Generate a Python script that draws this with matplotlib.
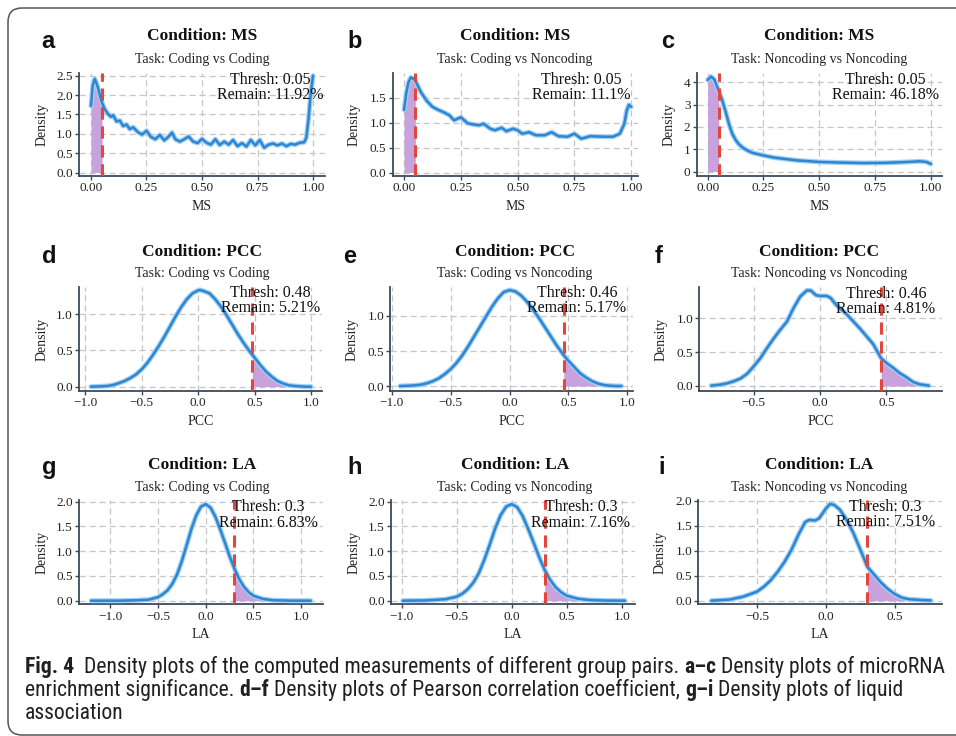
import matplotlib
matplotlib.use("Agg")
import matplotlib.pyplot as plt
from matplotlib.patches import FancyBboxPatch
from matplotlib.transforms import IdentityTransform
from matplotlib import font_manager

# ---------------- data ----------------
ms_cc_x = [0.00, 0.008, 0.017, 0.03, 0.045, 0.05, 0.06, 0.075, 0.09, 0.10, 0.115, 0.13, 0.145, 0.16,
           0.175, 0.19, 0.21, 0.23, 0.25, 0.27, 0.29, 0.31, 0.33, 0.35, 0.365, 0.38, 0.40, 0.42, 0.44,
           0.46, 0.48, 0.50, 0.52, 0.54, 0.56, 0.58, 0.60, 0.62, 0.64, 0.66, 0.68, 0.70, 0.72, 0.74,
           0.76, 0.78, 0.80, 0.82, 0.84, 0.86, 0.88, 0.90, 0.92, 0.94, 0.96, 0.97, 0.98, 0.99, 1.00]
ms_cc_y = [1.72, 2.25, 2.42, 2.22, 1.88, 1.80, 1.66, 1.52, 1.44, 1.48, 1.32, 1.34, 1.20, 1.24,
           1.12, 1.17, 1.05, 0.98, 1.08, 0.92, 0.86, 0.97, 0.83, 0.93, 1.03, 0.86, 0.80, 0.86, 0.93,
           0.80, 0.76, 0.87, 0.77, 0.72, 0.86, 0.71, 0.80, 0.72, 0.84, 0.68, 0.76, 0.67, 0.84, 0.70,
           0.84, 0.64, 0.72, 0.75, 0.70, 0.75, 0.68, 0.74, 0.72, 0.77, 0.78, 0.90, 1.40, 2.05, 2.50]

ms_cn_x = [0.00, 0.01, 0.02, 0.03, 0.04, 0.05, 0.075, 0.10, 0.125, 0.15, 0.175, 0.20, 0.22, 0.25,
           0.28, 0.30, 0.33, 0.35, 0.38, 0.40, 0.43, 0.45, 0.48, 0.50, 0.52, 0.55, 0.58, 0.62, 0.65,
           0.68, 0.72, 0.75, 0.78, 0.82, 0.88, 0.92, 0.95, 0.97, 0.98, 0.99, 1.00]
ms_cn_y = [1.26, 1.60, 1.82, 1.91, 1.89, 1.84, 1.61, 1.44, 1.32, 1.26, 1.21, 1.15, 1.05, 1.11,
           0.99, 0.97, 0.95, 0.98, 0.88, 0.85, 0.90, 0.83, 0.88, 0.85, 0.78, 0.81, 0.75, 0.75, 0.81,
           0.73, 0.72, 0.78, 0.68, 0.73, 0.72, 0.72, 0.78, 0.98, 1.24, 1.36, 1.32]

ms_nn_x = [0.00, 0.015, 0.03, 0.05, 0.065, 0.08, 0.095, 0.11, 0.125, 0.14, 0.16, 0.18, 0.20, 0.25,
           0.30, 0.40, 0.50, 0.60, 0.70, 0.80, 0.90, 0.95, 0.98, 1.00]
ms_nn_y = [4.10, 4.25, 4.12, 3.60, 3.20, 2.70, 2.15, 1.70, 1.42, 1.22, 1.05, 0.93, 0.84, 0.72,
           0.62, 0.50, 0.43, 0.40, 0.38, 0.39, 0.43, 0.46, 0.43, 0.34]

pcc_cc_x = [-0.95, -0.85, -0.8, -0.75, -0.7, -0.65, -0.6, -0.55, -0.5, -0.45, -0.4, -0.35, -0.3,
            -0.25, -0.2, -0.15, -0.1, -0.05, 0.0, 0.02, 0.05, 0.1, 0.15, 0.2, 0.25, 0.3, 0.35, 0.4,
            0.45, 0.48, 0.5, 0.55, 0.6, 0.65, 0.7, 0.75, 0.8, 0.85, 0.9, 0.95, 1.0]
pcc_cc_y = [0.0, 0.005, 0.01, 0.025, 0.05, 0.08, 0.12, 0.17, 0.24, 0.33, 0.44, 0.56, 0.69,
            0.83, 0.97, 1.10, 1.21, 1.29, 1.33, 1.335, 1.32, 1.29, 1.21, 1.11, 0.99, 0.86, 0.73, 0.61,
            0.50, 0.44, 0.40, 0.30, 0.21, 0.14, 0.08, 0.045, 0.02, 0.01, 0.005, 0.0, 0.0]

pcc_cn_x = [-0.93, -0.85, -0.8, -0.75, -0.7, -0.65, -0.6, -0.55, -0.5, -0.45, -0.4, -0.35, -0.3,
            -0.25, -0.2, -0.15, -0.1, -0.05, 0.0, 0.05, 0.1, 0.15, 0.2, 0.25, 0.3, 0.35, 0.4, 0.46,
            0.5, 0.55, 0.6, 0.65, 0.7, 0.75, 0.8, 0.85, 0.9, 0.95]
pcc_cn_y = [0.0, 0.005, 0.01, 0.02, 0.04, 0.07, 0.11, 0.17, 0.24, 0.33, 0.44, 0.57, 0.71,
            0.85, 0.99, 1.13, 1.25, 1.34, 1.37, 1.35, 1.29, 1.20, 1.09, 0.97, 0.84, 0.71, 0.58, 0.44,
            0.36, 0.27, 0.18, 0.12, 0.07, 0.035, 0.015, 0.005, 0.0, 0.0]

pcc_nn_x = [-0.82, -0.75, -0.7, -0.65, -0.6, -0.55, -0.5, -0.45, -0.4, -0.35, -0.3, -0.25, -0.2,
            -0.15, -0.1, -0.07, -0.03, 0.0, 0.05, 0.08, 0.12, 0.2, 0.3, 0.4, 0.46, 0.5, 0.55, 0.6,
            0.65, 0.7, 0.75, 0.82]
pcc_nn_y = [0.005, 0.02, 0.04, 0.07, 0.11, 0.18, 0.29, 0.41, 0.56, 0.70, 0.83, 0.95, 1.15,
            1.32, 1.41, 1.41, 1.34, 1.33, 1.33, 1.30, 1.20, 1.06, 0.85, 0.62, 0.41, 0.34, 0.27, 0.19,
            0.13, 0.06, 0.025, 0.005]

la_cc_x = [-1.2, -0.9, -0.7, -0.6, -0.5, -0.45, -0.4, -0.35, -0.3, -0.25, -0.2, -0.15, -0.1,
           -0.05, 0.0, 0.05, 0.1, 0.15, 0.2, 0.25, 0.3, 0.35, 0.4, 0.45, 0.5, 0.6, 0.7, 0.9, 1.1]
la_cc_y = [0.0, 0.0, 0.01, 0.02, 0.07, 0.13, 0.21, 0.34, 0.53, 0.80, 1.12, 1.45, 1.72,
           1.90, 1.95, 1.88, 1.70, 1.45, 1.18, 0.90, 0.65, 0.44, 0.28, 0.17, 0.10, 0.035, 0.01, 0.0, 0.0]

la_cn_x = [-0.99, -0.8, -0.7, -0.6, -0.5, -0.45, -0.4, -0.35, -0.3, -0.25, -0.2, -0.15, -0.1,
           -0.05, 0.0, 0.05, 0.1, 0.15, 0.2, 0.25, 0.3, 0.35, 0.4, 0.45, 0.5, 0.6, 0.7, 0.85, 1.03]
la_cn_y = [0.0, 0.005, 0.015, 0.03, 0.08, 0.14, 0.23, 0.36, 0.55, 0.82, 1.13, 1.46, 1.73,
           1.90, 1.95, 1.89, 1.71, 1.45, 1.17, 0.88, 0.62, 0.42, 0.27, 0.17, 0.10, 0.04, 0.015, 0.003, 0.0]

la_nn_x = [-0.83, -0.7, -0.6, -0.5, -0.45, -0.4, -0.35, -0.3, -0.25, -0.2, -0.15, -0.12, -0.08,
           -0.05, 0.0, 0.03, 0.06, 0.1, 0.15, 0.2, 0.25, 0.3, 0.35, 0.4, 0.45, 0.5, 0.55, 0.6, 0.7, 0.76]
la_nn_y = [0.0, 0.02, 0.08, 0.18, 0.28, 0.41, 0.58, 0.78, 1.02, 1.32, 1.58, 1.62, 1.61,
           1.65, 1.85, 1.94, 1.92, 1.83, 1.62, 1.35, 1.02, 0.68, 0.52, 0.36, 0.23, 0.13, 0.06, 0.03, 0.01, 0.005]

conditions = ["MS", "PCC", "LA"]
tasks = ["Coding vs Coding", "Coding vs Noncoding", "Noncoding vs Noncoding"]
panel_letters = ["a", "b", "c", "d", "e", "f", "g", "h", "i"]
thresholds = [0.05, 0.05, 0.05, 0.48, 0.46, 0.46, 0.3, 0.3, 0.3]
thresh_labels = ["0.05", "0.05", "0.05", "0.48", "0.46", "0.46", "0.3", "0.3", "0.3"]
remain_labels = ["11.92%", "11.1%", "46.18%", "5.21%", "5.17%", "4.81%", "6.83%", "7.16%", "7.51%"]

ms_xticks = [0.0, 0.25, 0.5, 0.75, 1.0]
ms_xticklabels = ["0.00", "0.25", "0.50", "0.75", "1.00"]
pcc_xticks_full = [-1.0, -0.5, 0.0, 0.5, 1.0]
pcc_xticklabels_full = ["\u22121.0", "\u22120.5", "0.0", "0.5", "1.0"]
short_xticks = [-0.5, 0.0, 0.5]
short_xticklabels = ["\u22120.5", "0.0", "0.5"]
yticks_a = [0.0, 0.5, 1.0, 1.5, 2.0, 2.5]
yticks_b = [0.0, 0.5, 1.0, 1.5]
yticks_c = [0, 1, 2, 3, 4]
yticks_pcc = [0.0, 0.5, 1.0]
yticks_la = [0.0, 0.5, 1.0, 1.5, 2.0]

curves_x = [ms_cc_x, ms_cn_x, ms_nn_x, pcc_cc_x, pcc_cn_x, pcc_nn_x, la_cc_x, la_cn_x, la_nn_x]
curves_y = [ms_cc_y, ms_cn_y, ms_nn_y, pcc_cc_y, pcc_cn_y, pcc_nn_y, la_cc_y, la_cn_y, la_nn_y]
for cx, cy in zip(curves_x, curves_y):
    assert len(cx) == len(cy)

# ---------------- layout / style ----------------
W, H = 956, 736
plt.rcParams["font.family"] = ["Liberation Serif", "DejaVu Serif"]
fig = plt.figure(figsize=(W / 100, H / 100), dpi=100)
fig.patch.set_facecolor("white")

BLUE = "#2c86d3"
HALO = "#a4d0f1"
FILL = "#c7a2dd"
RED = "#e5463b"
SPINE = "#3b4a5a"
GRID = "#c6c6c6"

# pixel boxes (left, right) per panel, and (top, bottom) per row
px_lr = [(79, 325), (392.7, 638), (696.7, 942),
         (79, 322), (390.3, 633), (699.3, 942),
         (79, 323), (391, 635), (698.3, 942)]
row_tb = [(73, 176), (287, 391), (500, 604.3)]
xlims = [(-0.054, 1.054), (-0.05, 1.03), (-0.049, 1.05),
         (-1.056, 1.097), (-1.012, 1.048), (-0.91, 0.919),
         (-1.327, 1.228), (-1.097, 1.121), (-0.925, 0.841)]
ylims = [(-0.09, 2.57), (-0.07, 2.0), (-0.2, 4.41),
         (-0.06, 1.377), (-0.071, 1.414), (-0.074, 1.462),
         (-0.073, 2.034), (-0.073, 2.034), (-0.073, 2.02)]
xt = [(ms_xticks, ms_xticklabels)] * 3 + [(pcc_xticks_full, pcc_xticklabels_full)] * 2 + \
     [(short_xticks, short_xticklabels)] + [(pcc_xticks_full, pcc_xticklabels_full)] * 2 + \
     [(short_xticks, short_xticklabels)]
yt = [yticks_a, yticks_b, yticks_c] + [yticks_pcc] * 3 + [yticks_la] * 3
annot_xy = [(0.806, 2.2), (0.78, 1.71), (0.795, 3.77),
            (0.637, 1.19), (0.573, 1.22), (0.497, 1.25),
            (0.656, 1.73), (0.63, 1.73), (0.43, 1.73)]
letter_xy = [(41, 47.7), (347, 47.7), (661, 47.7),
             (42, 263), (343, 263), (655, 263),
             (42, 474), (347, 474), (658, 474)]
ylabel_x = [41.7, 354.3, 669, 42, 352, 661, 42, 354, 660]
title_cx = [202, 515, 819]
title_y = [36, 251.7, 465]
sub_y = [60, 274, 487.7]
xlabel_y = [207, 421.7, 635]


def fx(p):
    return p / W


def fy(p):
    return 1 - p / H


def fmt_y(v):
    if isinstance(v, int):
        return str(v)
    return "%.1f" % v


for k in range(9):
    r, c = divmod(k, 3)
    l, rr = px_lr[k]
    t, b = row_tb[r]
    ax = fig.add_axes([fx(l), fy(b), (rr - l) / W, (b - t) / H])
    x = curves_x[k]
    y = curves_y[k]
    thr = thresholds[k]
    if r == 0:
        mask = [v <= thr + 1e-9 for v in x]
    else:
        mask = [v >= thr - 1e-9 for v in x]
    ax.fill_between(x, 0, y, where=mask, color=FILL, lw=0, zorder=2)
    ax.plot(x, y, color=HALO, lw=3.6, solid_capstyle="round", solid_joinstyle="round", zorder=3)
    ax.plot(x, y, color=BLUE, lw=1.8, solid_capstyle="round", solid_joinstyle="round", zorder=4)
    ax.axvline(thr, color=RED, lw=2.2, dashes=(4, 2.2), zorder=5)
    ax.set_xlim(*xlims[k])
    ax.set_ylim(*ylims[k])
    ticks, labels = xt[k]
    ax.set_xticks(ticks)
    ax.set_xticklabels(labels)
    ax.set_yticks(yt[k])
    ax.set_yticklabels([fmt_y(v) for v in yt[k]])
    ax.grid(True, color=GRID, lw=0.9, linestyle=(0, (5, 3)), zorder=0)
    ax.set_axisbelow(True)
    for s in ["top", "right"]:
        ax.spines[s].set_visible(False)
    for s in ["left", "bottom"]:
        ax.spines[s].set_color(SPINE)
        ax.spines[s].set_linewidth(1.3)
    ax.tick_params(direction="out", length=3, width=1, color=SPINE, labelsize=9.5,
                   labelcolor="#222222", pad=1.5)
    ax.set_facecolor("none")
    ax.text(annot_xy[k][0], annot_xy[k][1],
            "Thresh: %s\nRemain: %s" % (thresh_labels[k], remain_labels[k]),
            ha="center", va="center", multialignment="center", fontsize=11.5,
            linespacing=0.95, color="#111111", zorder=6)
    # texts around the panel
    fig.text(fx(letter_xy[k][0]), fy(letter_xy[k][1]), panel_letters[k], fontsize=17,
             fontweight="bold", family=["Liberation Sans", "DejaVu Sans"], ha="left",
             va="baseline", color="#111111")
    fig.text(fx(title_cx[c]), fy(title_y[r]), "Condition: %s" % conditions[r], fontsize=12.5,
             fontweight="bold", ha="center", va="center", color="#111111")
    fig.text(fx(title_cx[c]), fy(sub_y[r]), "Task: %s" % tasks[c], fontsize=10,
             ha="center", va="center", color="#222222")
    fig.text(fx((l + rr) / 2), fy(xlabel_y[r]), conditions[r], fontsize=10,
             ha="center", va="center", color="#222222")
    fig.text(fx(ylabel_x[k]), fy((t + b) / 2), "Density", fontsize=10, rotation=90,
             ha="center", va="center", color="#222222")

# ---------------- border ----------------
border = FancyBboxPatch((8, 1), 1100, 727, boxstyle="round,pad=0,rounding_size=14",
                        transform=IdentityTransform(), fill=False, edgecolor="#555555", lw=1.1)
fig.add_artist(border)

# ---------------- caption ----------------
names = {f.name for f in font_manager.fontManager.ttflist}
cap_family = "DejaVu Sans"
for n in ["Liberation Sans Narrow", "Roboto Condensed", "Open Sans Condensed", "Liberation Sans"]:
    if n in names:
        cap_family = n
        break

caption_lines = [
    [("Fig. 4", True), ("  Density plots of the computed measurements of different group pairs. ", False),
     ("a\u2013c", True), (" Density plots of microRNA", False)],
    [("enrichment significance. ", False), ("d\u2013f", True),
     (" Density plots of Pearson correlation coefficient, ", False), ("g\u2013i", True),
     (" Density plots of liquid", False)],
    [("association", False)],
]
caption_baselines = [673, 696, 719]
CAP_LEFT = 25
CAP_RIGHT = 950
CAP_COLOR = "#231f20"

renderer = fig.canvas.get_renderer()


def text_w(s, size, bold):
    if not s:
        return 0.0
    t = fig.text(0, 0, s, fontsize=size, fontweight="bold" if bold else "normal", family=cap_family)
    w = t.get_window_extent(renderer).width
    t.remove()
    return w


def piece_layout(runs, size):
    space_w = text_w("| |", size, False) - text_w("||", size, False)
    items = []
    x = 0.0
    for s, bold in runs:
        lead = len(s) - len(s.lstrip(" "))
        trail = len(s) - len(s.rstrip(" "))
        core = s.strip(" ")
        x += lead * space_w
        items.append((x, core, bold))
        x += text_w(core, size, bold)
        x += trail * space_w
    return items, x


_, w0 = piece_layout(caption_lines[0], 16)
cap_size = min(16.5, 16 * (CAP_RIGHT - CAP_LEFT) / w0)

for runs, base in zip(caption_lines, caption_baselines):
    items, _ = piece_layout(runs, cap_size)
    for x, core, bold in items:
        fig.text(fx(CAP_LEFT + x), fy(base), core, fontsize=cap_size,
                 fontweight="bold" if bold else "normal", family=cap_family,
                 ha="left", va="baseline", color=CAP_COLOR)

fig.savefig("out.png", dpi=100, facecolor="white")
